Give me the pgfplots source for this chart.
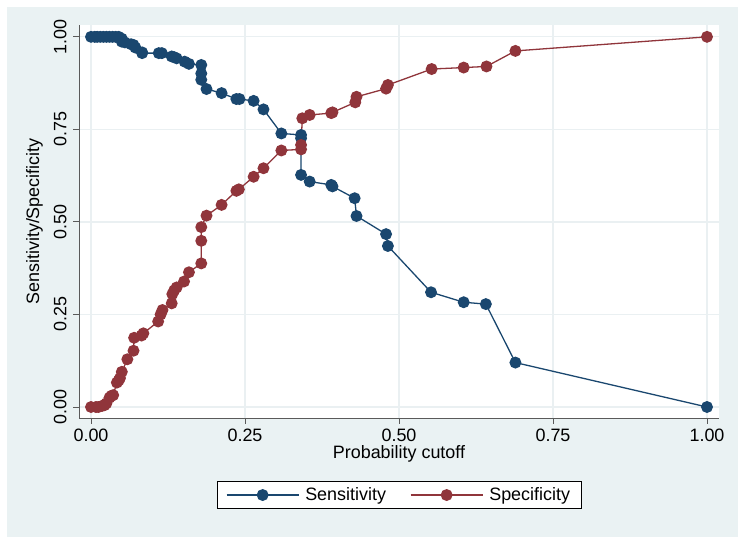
\documentclass[border=0pt]{standalone}
\usepackage{pgfplots}
\pgfplotsset{compat=1.18}
\usepackage{fontspec}
\setmainfont{Liberation Sans}
\definecolor{bgc}{HTML}{EAF2F3}
\definecolor{gridc}{HTML}{EAF0F2}
\definecolor{senc}{HTML}{1A476F}
\definecolor{spec}{HTML}{90353B}
\definecolor{axc}{HTML}{5A5A5A}
\begin{document}
\begin{tikzpicture}
\fill[white] (0,0) rectangle (740bp,540bp);
\fill[bgc] (7bp,3bp) rectangle (738bp,533bp);
\begin{axis}[
  at={(79bp,122bp)}, anchor=south west,
  scale only axis, width=640bp, height=393bp,
  xmin=-0.0195, xmax=1.0195, ymin=-0.0297, ymax=1.032,
  axis x line*=bottom, axis y line*=left,
  axis line style={color=axc, line width=1pt, -},
  axis background/.style={fill=white},
  xtick={0,0.25,0.5,0.75,1}, ytick={0,0.25,0.5,0.75,1},
  xticklabels={0.00,0.25,0.50,0.75,1.00},
  yticklabels={0.00,0.25,0.50,0.75,1.00},
  tick align=outside, major tick length=6bp,
  tick style={color=axc, line width=1pt},
  grid=major, major grid style={color=gridc, line width=1.2pt},
  /pgf/number format/assume math mode=true,
  tick label style={font=\fontsize{18}{21}\selectfont},
  yticklabel style={rotate=90, anchor=south, yshift=3bp},
  xticklabel style={yshift=-1bp},
  xlabel={Probability cutoff}, ylabel={Sensitivity/Specificity},
  label style={font=\fontsize{18}{21}\selectfont},
  xlabel style={yshift=3bp},
  ylabel style={yshift=4bp},
  legend columns=2,
  legend style={at={(0.5,-0.196)}, anchor=center, draw=black, line width=0.8pt,
    fill=white, font=\fontsize{18}{21}\selectfont,
    /tikz/every odd column/.append style={column sep=4bp},
    /tikz/every even column/.append style={column sep=22bp},
    inner xsep=9bp, inner ysep=4bp},
  legend image code/.code={
    \draw[#1, mark repeat=2, mark phase=2] plot coordinates {(0bp,0bp) (36bp,0bp) (72bp,0bp)};
  },
]
\addplot[color=senc, line width=1.3pt, mark=*, mark size=5.3bp, mark options={fill=senc, draw=senc}] coordinates {
(0,1.0) (0.006,1.0) (0.010,1.0) (0.015,1.0) (0.020,1.0) (0.025,1.0) (0.030,1.0)
(0.035,1.0) (0.040,1.0) (0.045,1.0) (0.050,0.995) (0.050,0.987) (0.055,0.985)
(0.065,0.980) (0.069,0.978) (0.072,0.971) (0.083,0.958) (0.083,0.956)
(0.110,0.956) (0.115,0.956) (0.131,0.947) (0.135,0.945) (0.139,0.942)
(0.152,0.933) (0.159,0.927) (0.179,0.924) (0.179,0.901) (0.179,0.884)
(0.1875,0.859) (0.212,0.848) (0.236,0.832) (0.241,0.832) (0.264,0.827)
(0.280,0.804) (0.309,0.739) (0.341,0.735) (0.341,0.726) (0.341,0.627)
(0.355,0.609) (0.390,0.600) (0.392,0.596) (0.428,0.564) (0.431,0.516)
(0.479,0.467) (0.482,0.435) (0.552,0.310) (0.605,0.283) (0.641,0.278)
(0.689,0.120) (1.0,0.0)
};
\addlegendentry{Sensitivity}
\addplot[color=spec, line width=1.3pt, mark=*, mark size=5.3bp, mark options={fill=spec, draw=spec}] coordinates {
(0,0) (0.008,0.0) (0.012,0.0) (0.018,0.003) (0.022,0.005) (0.025,0.010)
(0.030,0.025) (0.033,0.030) (0.036,0.032) (0.042,0.066) (0.045,0.072)
(0.047,0.078) (0.050,0.095) (0.059,0.129) (0.069,0.152) (0.070,0.187)
(0.082,0.193) (0.085,0.199) (0.109,0.231) (0.113,0.250) (0.116,0.262)
(0.131,0.280) (0.132,0.305) (0.135,0.315) (0.139,0.323) (0.151,0.339)
(0.159,0.364) (0.179,0.388) (0.179,0.449) (0.179,0.486) (0.1875,0.517)
(0.212,0.546) (0.236,0.584) (0.240,0.588) (0.264,0.622) (0.280,0.645)
(0.309,0.693) (0.341,0.696) (0.341,0.708) (0.343,0.780) (0.355,0.789)
(0.390,0.794) (0.392,0.796) (0.429,0.823) (0.431,0.838) (0.479,0.860)
(0.482,0.870) (0.553,0.913) (0.605,0.917) (0.642,0.920) (0.689,0.962)
(1.0,1.0)
};
\addlegendentry{Specificity}
\end{axis}
\end{tikzpicture}
\end{document}
